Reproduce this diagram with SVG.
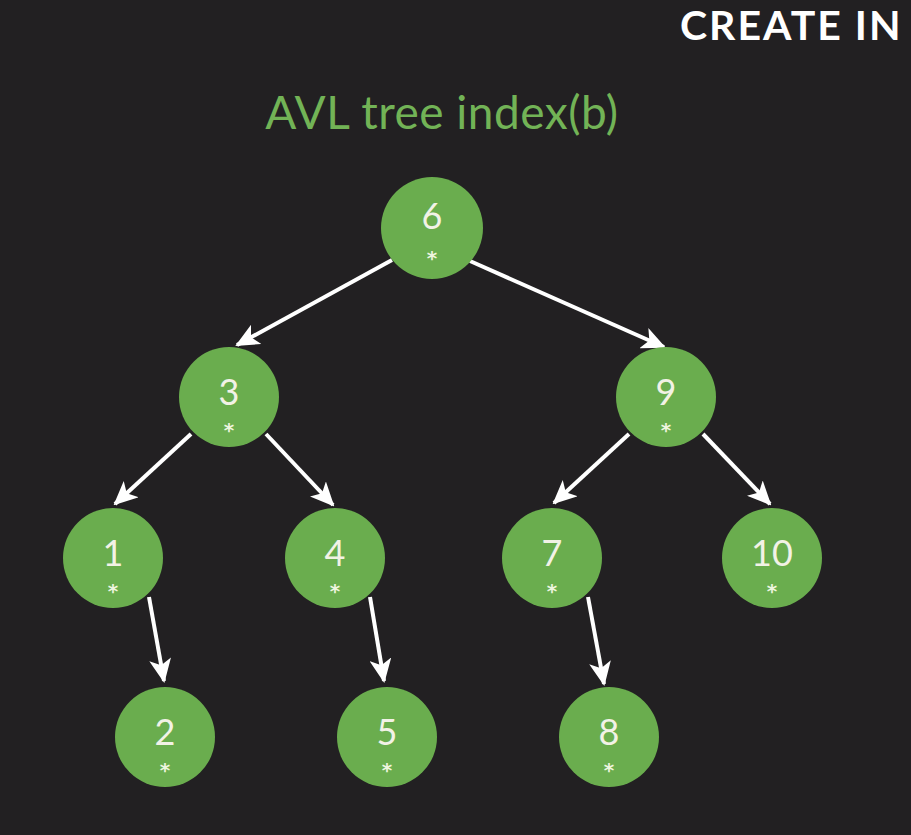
<svg xmlns="http://www.w3.org/2000/svg" width="911" height="835" viewBox="0 0 911 835">
<style>
.node circle{fill:#6aad4e;}
.num{font-family:Lato,"Open Sans","DejaVu Sans",sans-serif;font-size:36px;fill:#f2f2e6;text-anchor:middle;}
.ast{font-family:"DejaVu Sans",sans-serif;font-size:20px;fill:#eef5df;text-anchor:middle;font-weight:bold;}
.edge{stroke:#ffffff;stroke-width:4;fill:none;marker-end:url(#ah);}
</style>
<defs>
<marker id="ah" markerUnits="userSpaceOnUse" markerWidth="24" markerHeight="22" viewBox="0 0 24 22" refX="22" refY="11" orient="auto">
<path d="M0,0 L24,11 L0,22 L6,11 Z" fill="#ffffff"/>
</marker>
</defs>
<rect width="911" height="835" fill="#222022"/>
<text x="680" y="40" font-family="Lato,'Open Sans',sans-serif" font-size="41" font-weight="bold" fill="#ffffff" letter-spacing="2">CREATE IN</text>
<text x="442" y="129" font-family="Lato,'Open Sans',sans-serif" font-size="46" fill="#72b356" text-anchor="middle" letter-spacing="0.5">AVL tree index(b)</text>
<g id="edges">
<line class="edge" x1="392" y1="260" x2="237" y2="345"/>
<line class="edge" x1="470" y1="261" x2="664" y2="347"/>
<line class="edge" x1="191" y1="434" x2="115" y2="504"/>
<line class="edge" x1="266" y1="434" x2="333" y2="505"/>
<line class="edge" x1="629" y1="434" x2="554" y2="503"/>
<line class="edge" x1="703" y1="434" x2="770" y2="504"/>
<line class="edge" x1="149" y1="597" x2="164" y2="681"/>
<line class="edge" x1="370" y1="597" x2="384" y2="681"/>
<line class="edge" x1="588" y1="597" x2="604" y2="684"/>
</g>
<g id="n6" class="node"><circle cx="432" cy="228" r="51"/><text class="num" x="432" y="229">6</text><text class="ast" x="432" y="265">*</text></g>
<g id="n3" class="node"><circle cx="229" cy="397" r="50"/><text class="num" x="229" y="405">3</text><text class="ast" x="229" y="437">*</text></g>
<g id="n9" class="node"><circle cx="666" cy="397" r="50"/><text class="num" x="666" y="405">9</text><text class="ast" x="666" y="437">*</text></g>
<g id="n1" class="node"><circle cx="113" cy="558" r="50"/><text class="num" x="113" y="566">1</text><text class="ast" x="113" y="598">*</text></g>
<g id="n4" class="node"><circle cx="335" cy="558" r="50"/><text class="num" x="335" y="566">4</text><text class="ast" x="335" y="598">*</text></g>
<g id="n7" class="node"><circle cx="552" cy="558" r="50"/><text class="num" x="552" y="566">7</text><text class="ast" x="552" y="598">*</text></g>
<g id="n10" class="node"><circle cx="772" cy="558" r="50"/><text class="num" x="772" y="566">10</text><text class="ast" x="772" y="598">*</text></g>
<g id="n2" class="node"><circle cx="165" cy="737" r="50"/><text class="num" x="165" y="745">2</text><text class="ast" x="165" y="777">*</text></g>
<g id="n5" class="node"><circle cx="387" cy="737" r="50"/><text class="num" x="387" y="745">5</text><text class="ast" x="387" y="777">*</text></g>
<g id="n8" class="node"><circle cx="609" cy="737" r="50"/><text class="num" x="609" y="745">8</text><text class="ast" x="609" y="777">*</text></g>
</svg>
